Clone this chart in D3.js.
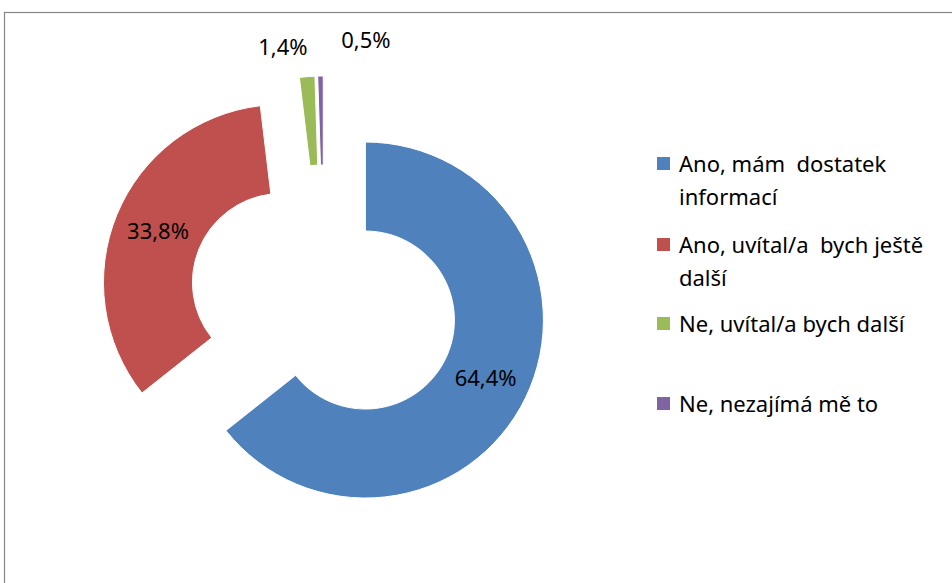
<!DOCTYPE html>
<html>
<head>
<meta charset="utf-8">
<script src="https://cdn.jsdelivr.net/npm/d3@7"></script>
<style>
  body { margin: 0; background: #fff; }
  svg text { font-family: "Noto Sans", "DejaVu Sans", sans-serif; fill: #000; }
</style>
</head>
<body>
<div id="chart"></div>
<script>
// answer categories (legend) and their shares in %
var categories = [
    'Ano, mám dostatek informací',
    'Ano, uvítal/a bych ještě další',
    'Ne, uvítal/a bych další',
    'Ne, nezajímá mě to'
];
var legendLines = [
    ['Ano, mám  dostatek', 'informací'],
    ['Ano, uvítal/a  bych ještě', 'další'],
    ['Ne, uvítal/a bych další'],
    ['Ne, nezajímá mě to']
];
var values = [64.4, 33.8, 1.4, 0.5];
var valueLabels = ['64,4%', '33,8%', '1,4%', '0,5%'];
var colors = ['#4F81BD', '#C0504D', '#9BBB59', '#8064A2'];

var width = 952, height = 583;
var cx = 324, cy = 300;
var outerR = 178, innerR = 89;
var explode = 46;

var svg = d3.select('#chart').append('svg')
    .attr('width', width)
    .attr('height', height);

// chart area border (runs off the page on the right and bottom)
svg.append('rect')
    .attr('x', 4.5).attr('y', 12.5)
    .attr('width', 1000).attr('height', 700)
    .attr('fill', 'none')
    .attr('stroke', '#868686')
    .attr('stroke-width', 1.2);

var pie = d3.pie().sort(null).value(function(d) { return d; });
var arcs = pie(values);
var arc = d3.arc().innerRadius(innerR).outerRadius(outerR);

function offset(d) {
    var a = (d.startAngle + d.endAngle) / 2;
    return [explode * Math.sin(a), -explode * Math.cos(a)];
}

var g = svg.append('g').attr('transform', `translate(${cx},${cy})`);

var slices = g.selectAll('g.slice')
    .data(arcs)
    .enter().append('g')
    .attr('class', 'slice')
    .attr('transform', function(d) {
        var o = offset(d);
        return `translate(${o[0]},${o[1]})`;
    });

slices.append('path')
    .attr('d', arc)
    .attr('fill', function(d, i) { return colors[i]; })
    .attr('stroke', '#fff')
    .attr('stroke-width', 1);

// the two tiny slices have their labels pulled out above the ring
var labelRadius = [133.5, 133.5, 207, 214];
var labelDx = [0, 0, -22, 46];

slices.append('text')
    .attr('transform', function(d, i) {
        var a = (d.startAngle + d.endAngle) / 2;
        var r = labelRadius[i];
        return `translate(${r * Math.sin(a) + labelDx[i]},${-r * Math.cos(a)})`;
    })
    .attr('text-anchor', 'middle')
    .attr('dy', '0.35em')
    .style('font-size', '22px')
    .text(function(d, i) { return valueLabels[i]; });

// legend
var legendX = 657;
var legendY = [164, 245, 324, 404];
var lineH = 33;
var legend = svg.append('g');
categories.forEach(function(c, i) {
    var item = legend.append('g').attr('transform', `translate(${legendX},${legendY[i]})`);
    item.append('rect')
        .attr('x', 0).attr('y', -7)
        .attr('width', 13).attr('height', 13)
        .attr('fill', colors[i]);
    item.selectAll('text')
        .data(legendLines[i])
        .enter().append('text')
        .attr('x', 22)
        .attr('y', function(d, j) { return j * lineH; })
        .attr('dy', '0.35em')
        .style('font-size', '22px')
        .style('white-space', 'pre')
        .attr('xml:space', 'preserve')
        .text(function(d) { return d; });
});
</script>
</body>
</html>
